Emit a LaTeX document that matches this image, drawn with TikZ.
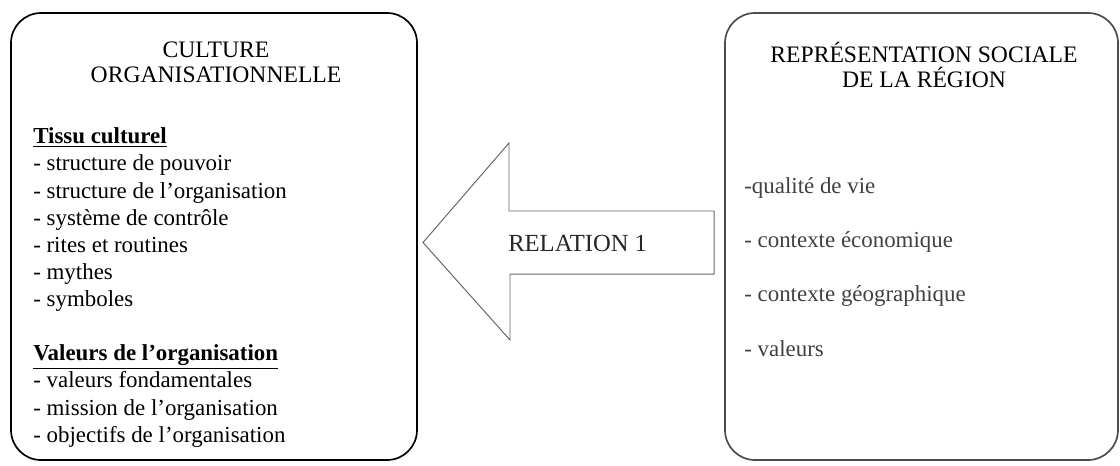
\documentclass[tikz,border=0pt]{standalone}
\usepackage{fontspec}
\setmainfont{Liberation Serif}
\begin{document}
\begin{tikzpicture}[>=latex,
  box/.style={draw,line width=1.2pt,rounded corners=0.75cm,minimum height=11.175cm},
  title/.style={align=center,inner sep=0pt,font=\fontsize{16.8}{17.5}\selectfont},
  list/.style={align=left,anchor=north west,inner sep=0pt,font=\fontsize{16.3}{19.3}\selectfont},
  bigarrow/.style={draw=black!60,line width=0.7pt}]
\useasboundingbox (0,0) rectangle (28,-11.625);
\path
(5.35,-5.9125)    node[box,minimum width=10.15cm] (cult) {}
(23.0375,-5.9125) node[box,minimum width=9.825cm,draw=black!70] (rep) {}
(5.4,-1.55)   node[title] (culttitle) {CULTURE\\ORGANISATIONNELLE}
(23.1,-1.62)  node[title] (reptitle) {REPRÉSENTATION SOCIALE\\DE LA RÉGION}
(0.825,-3.19) node[list] (tissu) {\textbf{\underline{Tissu culturel}}\\
  - structure de pouvoir\\
  - structure de l’organisation\\
  - système de contrôle\\
  - rites et routines\\
  - mythes\\
  - symboles\\
  \\
  \textbf{\underline{Valeurs de l’organisation}}\\
  - valeurs fondamentales\\
  - mission de l’organisation\\
  - objectifs de l’organisation}
(18.6,-4.43) node[list,text=black!75] (region) {-qualité de vie\\ \\
  - contexte économique\\ \\
  - contexte géographique\\ \\
  - valeurs}
(12.7,-6.075) node[anchor=west,inner sep=0pt,text=black!85,font=\fontsize{17.5}{19}\selectfont] (rel) {RELATION 1};

% fleche de la relation
\draw[bigarrow] (17.85,-5.275) -- (12.725,-5.275) -- (12.725,-3.575) -- (10.575,-6.0625)
  -- (12.75,-8.5) -- (12.75,-6.85) -- (17.85,-6.85) -- cycle;
\end{tikzpicture}
\end{document}
